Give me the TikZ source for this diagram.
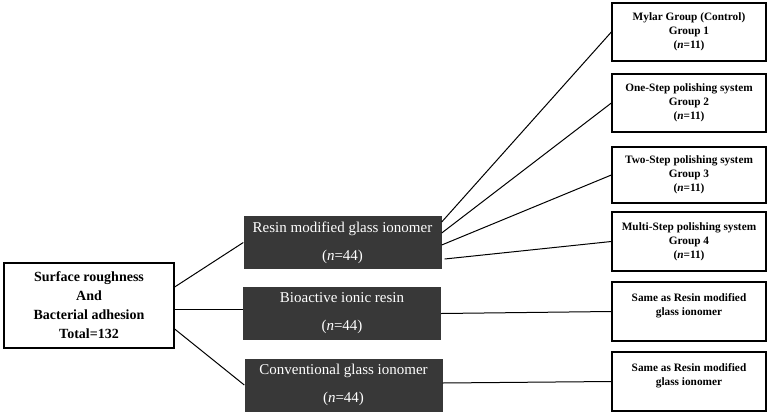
\documentclass[tikz,border=0pt]{standalone}
\usepackage{fontspec}
\setmainfont{Liberation Serif}
\definecolor{boxgray}{HTML}{383838}

\begin{document}
\begin{tikzpicture}[x=1pt,y=-1pt,
    total/.style={draw,line width=1.3pt,minimum width=170pt,minimum height=85pt,
      align=center,font=\fontsize{14}{19}\selectfont\bfseries},
    material/.style={fill=boxgray,text=white,minimum width=198pt,minimum height=53pt,
      align=center,font=\fontsize{15}{28}\selectfont},
    group/.style={draw,line width=1.3pt,minimum width=154pt,minimum height=58pt,
      align=center,font=\fontsize{11.3}{14}\selectfont\bfseries},
    link/.style={line width=1pt}]
  \useasboundingbox (0,0) rectangle (768,415);
  \node[total] (total) at (89,305.5) {Surface roughness\\And\\Bacterial adhesion\\Total=132};
  \node[material] (rmgi) at (342.5,242.5) {Resin modified glass ionomer\\(\textit{n}=44)};
  \node[material] (bir) at (342,313.5) {Bioactive ionic resin\\(\textit{n}=44)};
  \node[material] (cgi) at (343.5,385) {Conventional glass ionomer\\(\textit{n}=44)};
  \node[group] (g1) at (689,32) {Mylar Group (Control)\\Group 1\\(\textit{n}=11)};
  \node[group] (g2) at (689,103) {One-Step polishing system\\Group 2\\(\textit{n}=11)};
  \node[group,minimum height=56pt] (g3) at (689,175) {Two-Step polishing system\\Group 3\\(\textit{n}=11)};
  \node[group,minimum height=59pt] (g4) at (689,241.5) {Multi-Step polishing system\\Group 4\\(\textit{n}=11)};
  \node[group,minimum height=59pt] (g5) at (689,311.5) {Same as Resin modified\\glass ionomer\\\mbox{}};
  \node[group,minimum height=59pt] (g6) at (689,381.5) {Same as Resin modified\\glass ionomer\\\mbox{}};
  \draw[link] ([yshift=18.5pt]total.east) -- (rmgi.west);
  \draw[link] ([yshift=-3.5pt]total.east) -- ([yshift=4.5pt]bir.west);
  \draw[link] ([yshift=-23.5pt]total.east) -- (cgi.west);
  \draw[link] ([yshift=20.5pt]rmgi.east) -- (g1.west);
  \draw[link] ([yshift=9.5pt]rmgi.east) -- (g2.west);
  \draw[link] ([yshift=-2.5pt]rmgi.east) -- (g3.west);
  \draw[link] ([xshift=3pt,yshift=-16.5pt]rmgi.east) -- (g4.west);
  \draw[link] (bir.east) -- (g5.west);
  \draw[link] ([yshift=2pt]cgi.east) -- (g6.west);
\end{tikzpicture}
\end{document}
